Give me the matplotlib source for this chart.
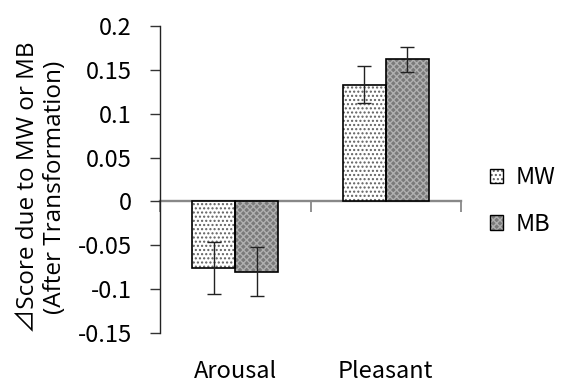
import matplotlib
matplotlib.use("Agg")
import matplotlib.pyplot as plt
import matplotlib.transforms as mtransforms
import numpy as np

categories = ["Arousal", "Pleasant"]
series = ["MW", "MB"]
mw_values = [-0.076, 0.133]
mb_values = [-0.080, 0.162]
mw_err = [0.030, 0.021]
mb_err = [0.028, 0.014]
yticks = [-0.15, -0.1, -0.05, 0, 0.05, 0.1, 0.15, 0.2]
ytick_labels = ["-0.15", "-0.1", "-0.05", "0", "0.05", "0.1", "0.15", "0.2"]

plt.rcParams['font.family'] = ['Noto Sans CJK KR', 'DejaVu Sans']

fig = plt.figure(figsize=(5.62, 3.89), dpi=100)
ax = fig.add_axes([160/562, 1-333/389, (461-160)/562, (333-26)/389])

x = np.arange(len(categories))
w = 0.285
styles = [
    dict(face="white", hatch="....", hcol="#606060"),
    dict(face="#7a7a7a", hatch="xxxxx", hcol="#b0b0b0"),
]
vals = [mw_values, mb_values]
errs = [mw_err, mb_err]
handles = []
for i, (v, e, st) in enumerate(zip(vals, errs, styles)):
    pos = x + (i - 0.5) * w
    ax.bar(pos, v, w, color=st["face"], hatch=st["hatch"], edgecolor=st["hcol"],
           linewidth=0, zorder=2)
    ax.bar(pos, v, w, fill=False, edgecolor="black", linewidth=1.2, zorder=3)
    ax.errorbar(pos, v, yerr=e, fmt="none", ecolor="#222222", elinewidth=1,
                capsize=5, capthick=1, zorder=4)
    h_fill = plt.Rectangle((0, 0), 1, 1, facecolor=st["face"], hatch=st["hatch"],
                           edgecolor=st["hcol"], linewidth=0)
    h_edge = plt.Rectangle((0, 0), 1, 1, fill=False, edgecolor="black", linewidth=1)
    handles.append((h_fill, h_edge))

ax.set_xlim(-0.5, 1.5)
ax.set_ylim(-0.15, 0.2)
ax.set_yticks(yticks)
ax.set_yticklabels(ytick_labels, fontsize=17)
ax.tick_params(axis="y", direction="out", length=7.2, width=1, color="#333333", pad=13)

ax.spines["top"].set_visible(False)
ax.spines["right"].set_visible(False)
ax.spines["bottom"].set_position(("data", 0))
ax.spines["bottom"].set_color("#888888")
ax.spines["bottom"].set_linewidth(1.7)
ax.spines["bottom"].set_zorder(1)
ax.spines["left"].set_color("#222222")
ax.spines["left"].set_linewidth(1)

ax.set_xticks([-0.5, 0.5, 1.5])
ax.set_xticklabels([])
ax.tick_params(axis="x", direction="out", length=8, width=1.3, color="#888888")

trans = mtransforms.blended_transform_factory(ax.transData, fig.transFigure)
for xi, c in zip(x, categories):
    ax.text(xi, 1-372/389, c, transform=trans, ha="center", va="center", fontsize=17)

fig.text(41.5/562, 1-187/389, "⊿Score due to MW or MB\n(After Transformation)",
         rotation=90, ha="center", va="center", fontsize=17.5, linespacing=1.2,
         family=['Open Sans', 'Noto Sans CJK KR', 'DejaVu Sans'])

leg = fig.legend(handles, series, loc="center left", bbox_to_anchor=(481/562, 1-201/389),
                 frameon=False, fontsize=17, handlelength=0.55, handleheight=0.55,
                 handletextpad=0.5, labelspacing=1.0, borderpad=0.4, borderaxespad=0)

fig.savefig("out.png", dpi=100)
